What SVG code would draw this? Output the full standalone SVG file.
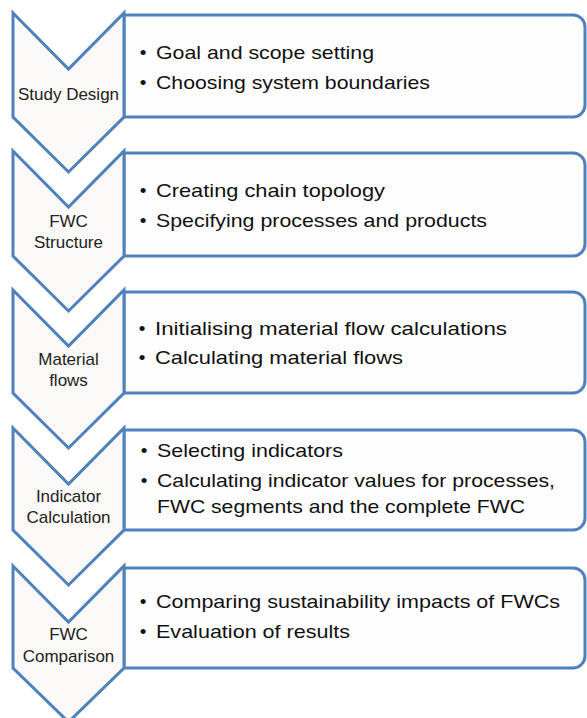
<svg xmlns="http://www.w3.org/2000/svg" width="587" height="718" viewBox="0 0 587 718">
<style>
.box{fill:#FDFDFD;stroke:#4F81BD;stroke-width:3;stroke-linejoin:miter}
.chev{fill:#FAF9F7;stroke:#4F81BD;stroke-width:3;stroke-linejoin:miter}
.t{font-family:"Liberation Sans",Arial,sans-serif;font-size:19px;fill:#111}
.l{font-family:"Liberation Sans",Arial,sans-serif;font-size:17px;fill:#222;text-anchor:middle}
.b{font-family:"Liberation Sans",Arial,sans-serif;font-size:19px;fill:#111;text-anchor:middle}
</style>
<rect width="587" height="718" fill="#fff"/>
<g id="step1">
<path class="box" d="M124,15 H573 A12,12 0 0 1 585,27 V105 A12,12 0 0 1 573,117 H124 Z"/>
<polygon class="chev" points="13,13 68.5,69 124,13 124,117 68.5,172 13,117"/>
<text class="l" x="68.5" y="100">Study Design</text>
<text class="b" x="143" y="59">•</text>
<text class="t" x="156" y="59" textLength="218" lengthAdjust="spacingAndGlyphs">Goal and scope setting</text>
<text class="b" x="143" y="89">•</text>
<text class="t" x="156" y="89" textLength="274" lengthAdjust="spacingAndGlyphs">Choosing system boundaries</text>
</g>
<g id="step2">
<path class="box" d="M124,153 H573 A12,12 0 0 1 585,165 V244 A12,12 0 0 1 573,256 H124 Z"/>
<polygon class="chev" points="13,151 68.5,207 124,151 124,256 68.5,311 13,256"/>
<text class="l" x="68.5" y="227">FWC</text>
<text class="l" x="68.5" y="248">Structure</text>
<text class="b" x="143" y="197">•</text>
<text class="t" x="156" y="197" textLength="229" lengthAdjust="spacingAndGlyphs">Creating chain topology</text>
<text class="b" x="143" y="227">•</text>
<text class="t" x="156" y="227" textLength="331" lengthAdjust="spacingAndGlyphs">Specifying processes and products</text>
</g>
<g id="step3">
<path class="box" d="M124,292 H573 A12,12 0 0 1 585,304 V381 A12,12 0 0 1 573,393 H124 Z"/>
<polygon class="chev" points="13,290 68.5,346 124,290 124,393 68.5,448 13,393"/>
<text class="l" x="68.5" y="365">Material</text>
<text class="l" x="68.5" y="386">flows</text>
<text class="b" x="142" y="335">•</text>
<text class="t" x="155" y="335" textLength="352" lengthAdjust="spacingAndGlyphs">Initialising material flow calculations</text>
<text class="b" x="142" y="364">•</text>
<text class="t" x="155" y="364" textLength="248" lengthAdjust="spacingAndGlyphs">Calculating material flows</text>
</g>
<g id="step4">
<path class="box" d="M124,430 H573 A12,12 0 0 1 585,442 V518 A12,12 0 0 1 573,530 H124 Z"/>
<polygon class="chev" points="13,428 68.5,484 124,428 124,530 68.5,585 13,530"/>
<text class="l" x="68.5" y="502">Indicator</text>
<text class="l" x="68.5" y="523">Calculation</text>
<text class="b" x="144" y="457">•</text>
<text class="t" x="157" y="457" textLength="186" lengthAdjust="spacingAndGlyphs">Selecting indicators</text>
<text class="b" x="144" y="487">•</text>
<text class="t" x="157" y="487" textLength="398" lengthAdjust="spacingAndGlyphs">Calculating indicator values for processes,</text>
<text class="t" x="157" y="513" textLength="368" lengthAdjust="spacingAndGlyphs">FWC segments and the complete FWC</text>
</g>
<g id="step5">
<path class="box" d="M124,568 H573 A12,12 0 0 1 585,580 V656 A12,12 0 0 1 573,668 H124 Z"/>
<polygon class="chev" points="13,566 68.5,622 124,566 124,668 68.5,722 13,668"/>
<text class="l" x="68.5" y="640">FWC</text>
<text class="l" x="68.5" y="662">Comparison</text>
<text class="b" x="143" y="608">•</text>
<text class="t" x="156" y="608" textLength="404" lengthAdjust="spacingAndGlyphs">Comparing sustainability impacts of FWCs</text>
<text class="b" x="143" y="638">•</text>
<text class="t" x="156" y="638" textLength="194" lengthAdjust="spacingAndGlyphs">Evaluation of results</text>
</g>
<g id="connectors"></g>
</svg>
